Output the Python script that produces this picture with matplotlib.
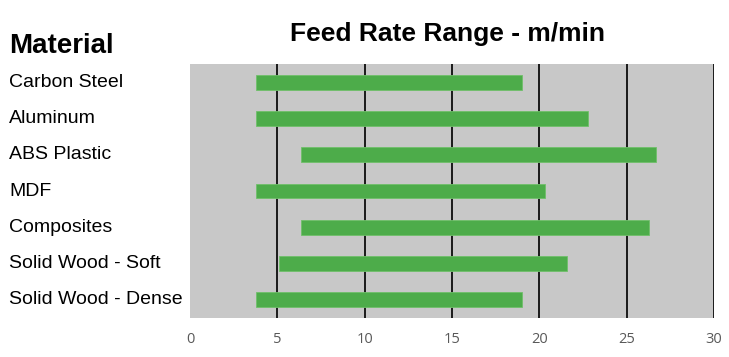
import matplotlib.pyplot as plt
import matplotlib.transforms as mtransforms
from matplotlib import font_manager

materials = ["Carbon Steel", "Aluminum", "ABS Plastic", "MDF", "Composites",
             "Solid Wood - Soft", "Solid Wood - Dense"]
feed_min = [3.8, 3.8, 6.35, 3.8, 6.35, 5.1, 3.8]
feed_max = [19.0, 22.8, 26.7, 20.3, 26.3, 21.6, 19.0]
xticks = [0, 5, 10, 15, 20, 25, 30]

names = {f.name for f in font_manager.fontManager.ttflist}
narrow = "Liberation Sans Narrow" if "Liberation Sans Narrow" in names else "Liberation Sans"

fig = plt.figure(figsize=(7.29, 3.57), dpi=100)
ax = fig.add_axes([190 / 729, 39 / 357, 524 / 729, 254 / 357])
ax.set_facecolor("#c8c8c8")

ypos = list(range(len(materials)))
widths = [b - a for a, b in zip(feed_min, feed_max)]
ax.barh(ypos, widths, left=feed_min, height=0.41, color="#4dac4a",
        edgecolor="#6fc06a", linewidth=0.6, zorder=3)

ax.set_xlim(0, 30)
ax.set_ylim(len(materials) - 0.5, -0.5)
for x in xticks[1:]:
    ax.axvline(x, color="#1a1a1a", linewidth=1.4, zorder=2)

for s in ax.spines.values():
    s.set_visible(False)
ax.set_yticks([])
ax.set_xticks(xticks)
ax.tick_params(axis="x", length=0, pad=10, labelcolor="#595959", labelsize=10.5)
for lbl in ax.get_xticklabels():
    lbl.set_family("Open Sans")

# category labels on the left
trans = mtransforms.blended_transform_factory(fig.transFigure, ax.transData)
for i, m in enumerate(materials):
    ax.text(9 / 729, i, m, transform=trans, ha="left", va="center",
            fontsize=14, family=narrow, color="black")

fig.text(9 / 729, 1 - 46 / 357, "Material", ha="left", va="center",
         fontsize=20, fontweight="bold", family=narrow)
fig.text(447 / 729, 1 - 34 / 357, "Feed Rate Range - m/min", ha="center",
         va="center", fontsize=19, fontweight="bold", family=narrow)

fig.savefig("out.png", dpi=100)
